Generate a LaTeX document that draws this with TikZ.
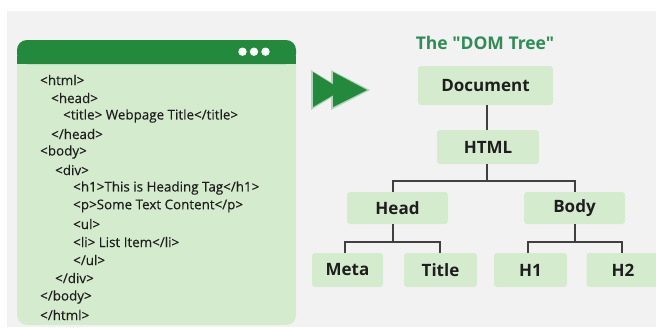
\documentclass[tikz,border=0pt]{standalone}
\usepackage{fontspec}
\setmainfont{Open Sans}
\newfontfamily\codefont{Open Sans}[FakeBold=0.35]
\newfontfamily\labelfont{Open Sans}
\definecolor{pagegrey}{HTML}{F2F2F2}
\definecolor{darkgreen}{HTML}{23893D}
\definecolor{panelgreen}{HTML}{D4EBCD}
\definecolor{boxgreen}{HTML}{D5EBCD}
\definecolor{titlegreen}{HTML}{2E8D55}
\definecolor{ink}{HTML}{1E1E1E}
\tikzset{
  treebox/.style={fill=boxgreen, rounded corners=3pt, inner sep=0pt,
    font=\labelfont\fontsize{17}{19}\selectfont\bfseries, text=ink},
  codeline/.style={anchor=west, inner sep=0pt, font=\codefont\fontsize{13.4}{15}\selectfont, text=ink},
  link/.style={draw=ink!85, line width=1.3pt}
}
\begin{document}
\begin{tikzpicture}[x=1pt,y=-1pt]
\useasboundingbox (0,0) rectangle (656,327);
\fill[white] (0,0) rectangle (656,327);
\fill[pagegrey] (7,11) rectangle (656,327);

% code window
\fill[panelgreen, rounded corners=10pt] (17,40) rectangle (296,325);
\fill[darkgreen, rounded corners=10pt] (17,40) -- (296,40) -- (296,64) -- (17,64) -- cycle;
\fill[darkgreen] (17,56) rectangle (296,64);
\foreach \cx in {242.5,254,265.5} \fill[white] (\cx,51.7) circle (4.2pt);

\node[codeline] (l1)  at (40,80)  {<html>};
\node[codeline] (l2)  at (51,98)  {<head>};
\node[codeline] (l3)  at (63,116) {<title> Webpage Title</title>};
\node[codeline] (l4)  at (51,134) {</head>};
\node[codeline] (l5)  at (40,152) {<body>};
\node[codeline] (l6)  at (55,170) {<div>};
\node[codeline] (l7)  at (73,188) {<h1>This is Heading Tag</h1>};
\node[codeline] (l8)  at (73,206) {<p>Some Text Content</p>};
\node[codeline] (l9)  at (73,224) {<ul>};
\node[codeline] (l10) at (73,242) {<li> List Item</li>};
\node[codeline] (l11) at (73,260) {</ul>};
\node[codeline] (l12) at (55,278) {</div>};
\node[codeline] (l13) at (40,297) {</body>};
\node[codeline] (l14) at (40,315) {</html>};

% forward arrow
\fill[darkgreen!35] (311,70) -- (344,90) -- (311,110) -- cycle;
\fill[darkgreen!35] (331,70) -- (370,90) -- (331,110) -- cycle;
\fill[darkgreen] (313,72) -- (342,90) -- (313,107) -- cycle;
\fill[darkgreen] (333,72) -- (367,90) -- (333,107) -- cycle;

% tree
\node[font=\labelfont\fontsize{17.5}{19}\selectfont\bfseries, text=titlegreen] (ttl) at (485,43) {The "DOM Tree"};

\node[treebox, minimum width=135pt, minimum height=39pt] (doc)   at (485.5,85.5) {Document};
\node[treebox, minimum width=102pt, minimum height=34pt] (html)  at (488,147)   {HTML};
\node[treebox, minimum width=101pt, minimum height=32pt] (head)  at (397.5,208) {Head};
\node[treebox, minimum width=101pt, minimum height=32pt] (body)  at (574.5,208) {Body};
\node[treebox, minimum width=71pt,  minimum height=34pt] (meta)  at (347.5,270) {Meta};
\node[treebox, minimum width=73pt,  minimum height=34pt] (title) at (440.5,270) {Title};
\node[treebox, minimum width=73pt,  minimum height=34pt] (h1)    at (530.5,270) {H1};
\node[treebox, minimum width=73pt,  minimum height=34pt] (h2)    at (623,270)   {H2};

\coordinate (jtop) at (487,181);
\coordinate (jhead) at (393,242);
\coordinate (jbody) at (575,242);

\draw[link] (doc.south -| jtop) -- (html.north -| jtop);
\draw[link] (html.south -| jtop) -- (jtop);
\draw[link] (head.north -| jhead) |- (jtop) -| (body.north -| jbody);
\draw[link] (head.south -| jhead) -- (jhead);
\draw[link] (meta.north -| 345,0) |- (jhead) -| (title.north -| 440,0);
\draw[link] (body.south -| jbody) -- (jbody);
\draw[link] (h1.north -| 528,0) |- (jbody) -| (h2.north -| 622,0);
\end{tikzpicture}
\end{document}
